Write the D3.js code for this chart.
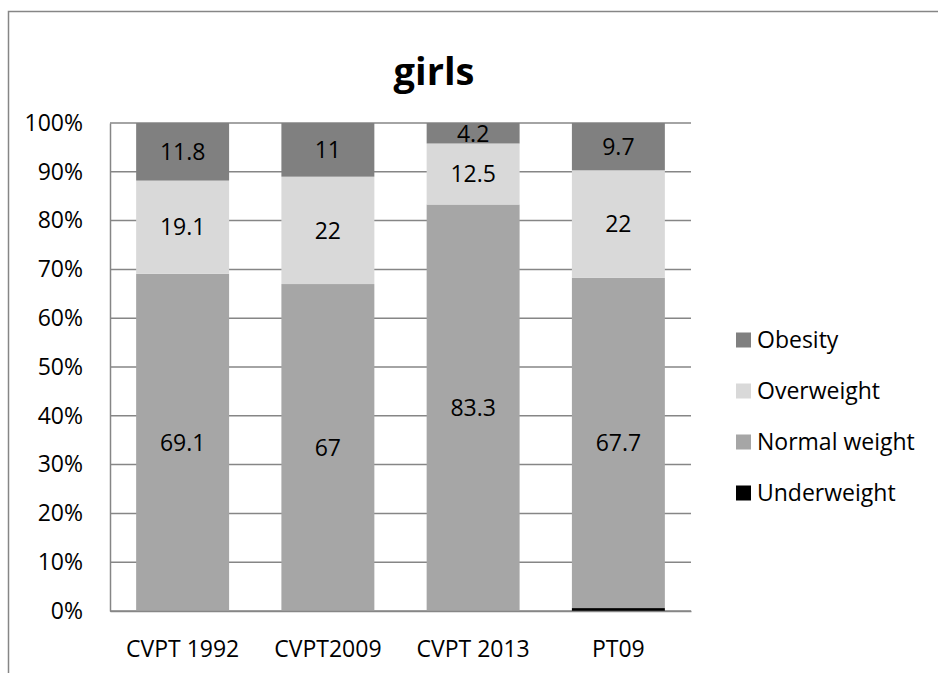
<!DOCTYPE html>
<html>
<head>
<meta charset="utf-8">
<script src="https://cdn.jsdelivr.net/npm/d3@7"></script>
<style>
  html, body { margin: 0; padding: 0; background: #fff; }
  svg { display: block; font-family: "Open Sans", sans-serif; }
</style>
</head>
<body>
<svg id="chart" width="938" height="673"></svg>
<script>
const categories = ["CVPT 1992", "CVPT2009", "CVPT 2013", "PT09"];
const seriesNames = ["Underweight", "Normal weight", "Overweight", "Obesity"];
const underweight = [0, 0, 0, 0.6];
const normalWeight = [69.1, 67, 83.3, 67.7];
const overweight = [19.1, 22, 12.5, 22];
const obesity = [11.8, 11, 4.2, 9.7];
const colors = ["#000000", "#a6a6a6", "#d9d9d9", "#808080"];
const yTicks = [0, 10, 20, 30, 40, 50, 60, 70, 80, 90, 100];
const legendOrder = ["Obesity", "Overweight", "Normal weight", "Underweight"];
const title = "girls";

const seriesValues = [underweight, normalWeight, overweight, obesity];
const rows = categories.map((c, i) => {
  const r = { cat: c };
  seriesNames.forEach((s, j) => r[s] = seriesValues[j][i]);
  return r;
});

const svg = d3.select("#chart");
const gridColor = "#868686";

// outer chart border (cropped on right/bottom)
svg.append("path")
  .attr("d", "M8.5,700 L8.5,11.5 L960,11.5")
  .attr("fill", "none").attr("stroke", gridColor).attr("stroke-width", 1.5);

const plot = { left: 110, right: 691, top: 123, bottom: 611 };
const x = d3.scaleBand().domain(categories).range([plot.left, plot.right]).paddingInner(0.36).paddingOuter(0.18);
const y = d3.scaleLinear().domain([0, 100]).range([plot.bottom, plot.top]);
const color = d3.scaleOrdinal().domain(seriesNames).range(colors);

// gridlines
svg.append("g").selectAll("line").data(yTicks).join("line")
  .attr("x1", plot.left).attr("x2", plot.right)
  .attr("y1", d => y(d)).attr("y2", d => y(d))
  .attr("stroke", gridColor).attr("stroke-width", 1.5);

// y axis
const yAxis = d3.axisLeft(y).tickValues(yTicks).tickFormat(d => d + "%").tickSize(0).tickPadding(27);
const ya = svg.append("g").attr("transform", `translate(${plot.left},0)`).call(yAxis);
ya.select(".domain").attr("stroke", gridColor).attr("stroke-width", 1.5);
ya.selectAll("text").attr("font-size", 23).attr("fill", "#000").attr("font-family", "Open Sans");

// bars
const stack = d3.stack().keys(seriesNames);
const stacked = stack(rows);
const layers = svg.append("g").selectAll("g").data(stacked).join("g")
  .attr("fill", d => color(d.key));
layers.selectAll("rect").data(d => d).join("rect")
  .attr("x", d => x(d.data.cat))
  .attr("width", x.bandwidth())
  .attr("y", d => y(d[1]))
  .attr("height", d => y(d[0]) - y(d[1]));

// x axis
const xAxis = d3.axisBottom(x).tickSize(0).tickPadding(30);
const xa = svg.append("g").attr("transform", `translate(0,${plot.bottom})`).call(xAxis);
xa.select(".domain").attr("stroke", gridColor).attr("stroke-width", 1.5);
xa.selectAll("text").attr("font-size", 23).attr("fill", "#000").attr("font-family", "Open Sans");

// data labels (skip Underweight)
stacked.filter(s => s.key !== "Underweight").forEach(s => {
  svg.append("g").selectAll("text").data(s).join("text")
    .attr("x", d => x(d.data.cat) + x.bandwidth() / 2)
    .attr("y", d => (y(d[0]) + y(d[1])) / 2)
    .attr("dy", "0.36em")
    .attr("text-anchor", "middle")
    .attr("font-size", 23)
    .attr("fill", "#000")
    .text(d => d.data[s.key]);
});

// title
svg.append("text").attr("x", 434).attr("y", 85).attr("text-anchor", "middle")
  .attr("font-size", 38).attr("font-weight", "bold").attr("fill", "#000").text(title);

// legend
const legendY = d3.scalePoint().domain(legendOrder).range([340, 493]);
const lg = svg.append("g").selectAll("g").data(legendOrder).join("g")
  .attr("transform", d => `translate(736,${legendY(d)})`);
lg.append("rect").attr("x", 0).attr("y", -7.5).attr("width", 15).attr("height", 15)
  .attr("fill", d => color(d));
lg.append("text").attr("x", 21).attr("y", 0).attr("dy", "0.36em")
  .attr("font-size", 23).attr("fill", "#000").text(d => d);
</script>
</body>
</html>
